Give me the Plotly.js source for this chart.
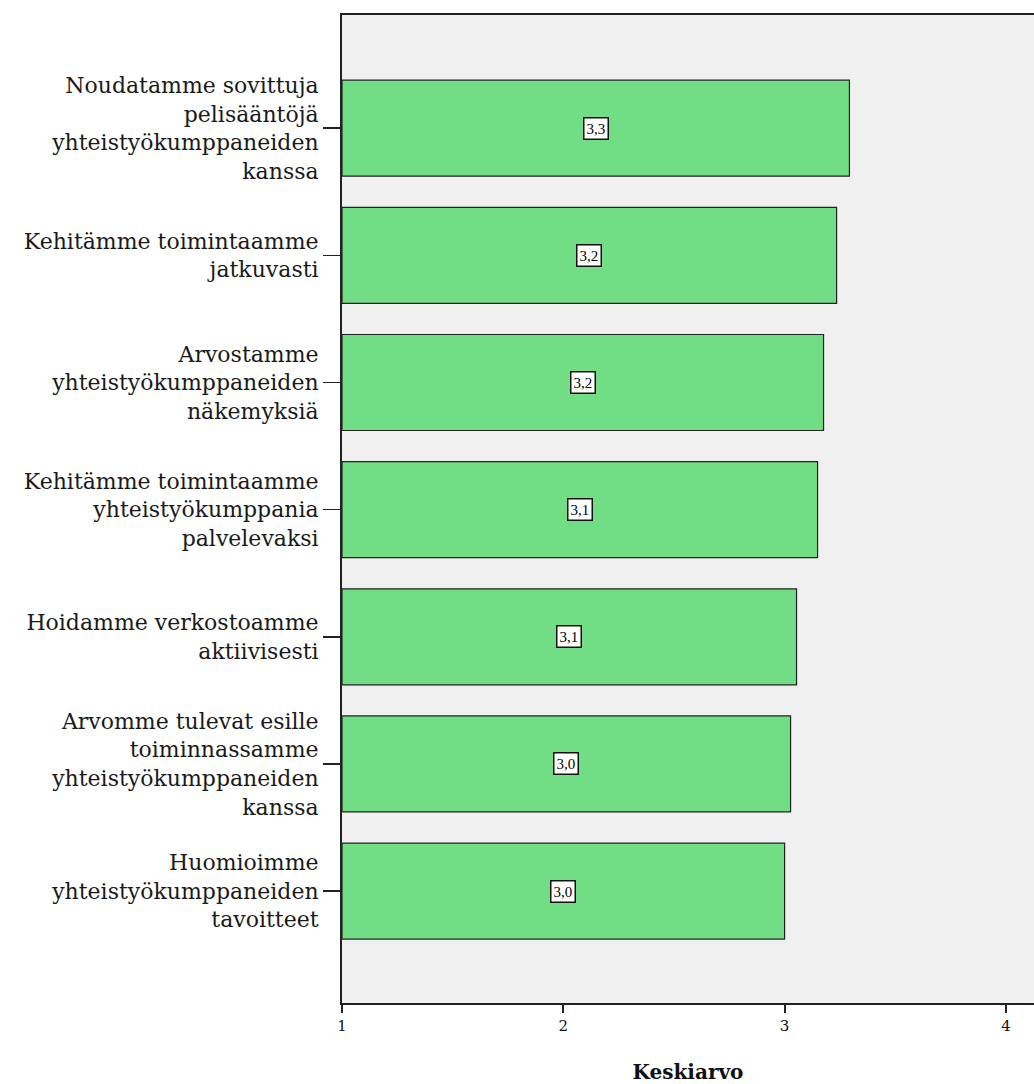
<!DOCTYPE html>
<html>
<head>
<meta charset="utf-8">
<script src="https://cdn.plot.ly/plotly-3.0.1.min.js"></script>
<style>html,body{margin:0;padding:0;background:#fff;}</style>
</head>
<body>
<div id="chart" style="width:1034px;height:1084px;"></div>
<script>
const categories = [
  "Noudatamme sovittuja<br>pelisääntöjä<br>yhteistyökumppaneiden<br>kanssa",
  "Kehitämme toimintaamme<br>jatkuvasti",
  "Arvostamme<br>yhteistyökumppaneiden<br>näkemyksiä",
  "Kehitämme toimintaamme<br>yhteistyökumppania<br>palvelevaksi",
  "Hoidamme verkostoamme<br>aktiivisesti",
  "Arvomme tulevat esille<br>toiminnassamme<br>yhteistyökumppaneiden<br>kanssa",
  "Huomioimme<br>yhteistyökumppaneiden<br>tavoitteet"
];
const means = [3.293, 3.235, 3.176, 3.149, 3.054, 3.027, 3.000];
const xTickVals = [1, 2, 3, 4];
const xTitle = "Keskiarvo";

const base = 1;
const fmt = v => v.toFixed(1).replace(".", ",");

const trace = {
  type: "bar",
  orientation: "h",
  y: categories,
  x: means.map(v => v - base),
  base: base,
  width: 0.755,
  marker: { color: "#71DD85", line: { color: "#222222", width: 1.2 } },
  hoverinfo: "none"
};

const annotations = means.map((v, i) => ({
  x: (base + v) / 2,
  y: categories[i],
  xref: "x", yref: "y",
  text: fmt(v),
  showarrow: false,
  font: { family: "Liberation Serif", size: 15, color: "#000" },
  bgcolor: "#ffffff",
  bordercolor: "#111111",
  borderwidth: 1.5,
  borderpad: 2
}));

const layout = {
  width: 1034,
  height: 1084,
  margin: { l: 342, r: 0, t: 15, b: 81, pad: 0 },
  paper_bgcolor: "#ffffff",
  plot_bgcolor: "#F0F0F0",
  showlegend: false,
  bargap: 0,
  xaxis: {
    range: [1, 4.127],
    tickvals: xTickVals,
    ticktext: xTickVals.map(String),
    ticks: "outside",
    ticklen: 8,
    tickwidth: 2,
    tickcolor: "#222",
    showgrid: false,
    zeroline: false,
    showline: true,
    linecolor: "#222",
    linewidth: 2,
    mirror: true,
    tickfont: { family: "DejaVu Serif", size: 15, color: "#111" },
    title: { text: xTitle, font: { family: "DejaVu Serif", size: 20, color: "#111", weight: "bold" }, standoff: 32 }
  },
  yaxis: {
    type: "category",
    range: [6.88, -0.89],
    ticks: "outside",
    ticklen: 17,
    tickwidth: 1.5,
    tickcolor: "#222",
    showgrid: false,
    zeroline: false,
    showline: true,
    linecolor: "#222",
    linewidth: 2,
    tickfont: { family: "DejaVu Serif", size: 22, color: "#1a1a1a" }
  },
  annotations: annotations
};

Plotly.newPlot("chart", [trace], layout, { displayModeBar: false, staticPlot: true });
</script>
</body>
</html>
